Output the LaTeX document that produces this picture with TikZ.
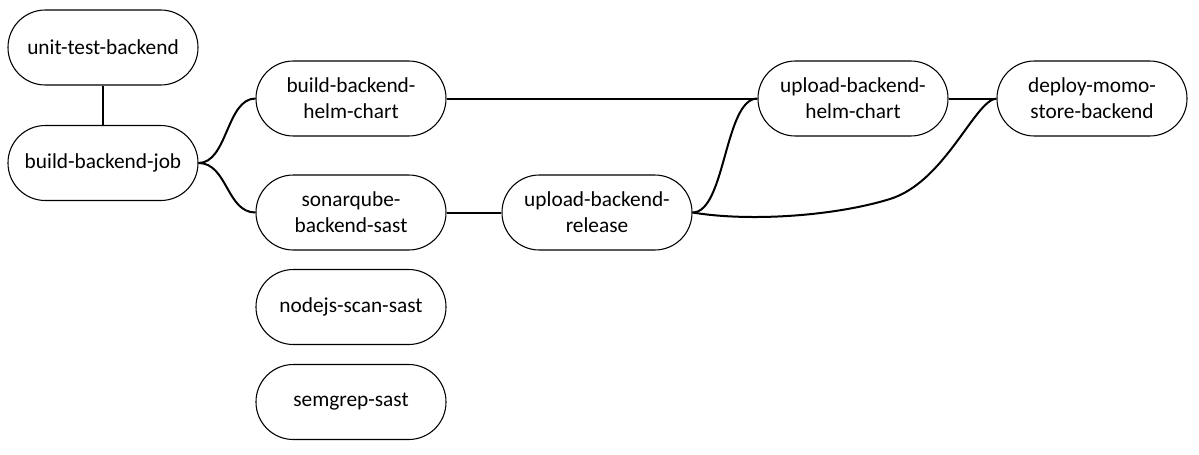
\documentclass[tikz,border=0pt]{standalone}
\usepackage{fontspec}
\setmainfont{Carlito}
\begin{document}
\begin{tikzpicture}[x=0.75pt,y=-0.75pt,
  job/.style={draw=black,line width=0.8pt,rounded corners=28pt,minimum width=142.5pt,minimum height=56.25pt,inner sep=0pt,align=center,font=\fontsize{16}{19.5}\selectfont},
  link/.style={line width=1.5pt,black}]
\useasboundingbox (0,0) rectangle (1199,454);
\node[job] (ut) at (103,47.5) {unit-test-backend};
\node[job] (bj) at (103,163) {build-backend-job};
\node[job] (bh) at (351,98.5) {build-backend-\\helm-chart};
\node[job] (sq) at (351,212.5) {sonarqube-\\backend-sast};
\node[job] (nj) at (351,307) {nodejs-scan-sast};
\node[job] (sg) at (351,402) {semgrep-sast};
\node[job] (ur) at (597,212.5) {upload-backend-\\release};
\node[job] (uh) at (853,98.5) {upload-backend-\\helm-chart};
\node[job] (dp) at (1092,98.5) {deploy-momo-\\store-backend};
\draw[link] (ut.south) -- (bj.north);
\draw[link] (bj.east) .. controls +(29,0) and +(-29,0) .. (bh.west);
\draw[link] (bj.east) .. controls +(29,0) and +(-29,0) .. (sq.west);
\draw[link] (bh.east) -- (uh.west);
\draw[link] (sq.east) -- (ur.west);
\draw[link] (ur.east) .. controls +(33,0) and +(-33,0) .. (uh.west);
\draw[link] (uh.east) -- (dp.west);
\draw[link] (ur.east) .. controls (750,222) and (835,216) .. (890,199) .. controls (945,182) and (975,100) .. (dp.west);
\end{tikzpicture}
\end{document}
